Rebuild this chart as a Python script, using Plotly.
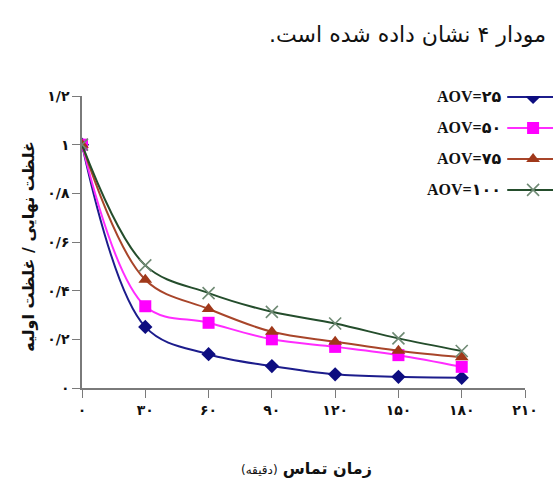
import plotly.graph_objects as go

# Contact time (minutes) and normalised concentration C/C0 for each AOV dose
time_min = [0, 30, 60, 90, 120, 150, 180]
aov_25 = [1.0, 0.251, 0.139, 0.090, 0.056, 0.046, 0.042]
aov_50 = [1.0, 0.336, 0.268, 0.200, 0.169, 0.135, 0.087]
aov_75 = [1.0, 0.445, 0.325, 0.231, 0.190, 0.153, 0.126]
aov_100 = [1.0, 0.504, 0.390, 0.313, 0.265, 0.204, 0.152]

series_names = ["AOV=۲۵", "AOV=۵۰", "AOV=۷۵", "AOV=۱۰۰"]
x_ticks = [0, 30, 60, 90, 120, 150, 180, 210]
x_tick_text = ["۰", "۳۰", "۶۰", "۹۰", "۱۲۰", "۱۵۰", "۱۸۰", "۲۱۰"]
y_ticks = [0, 0.2, 0.4, 0.6, 0.8, 1.0, 1.2]
y_tick_text = ["۰", "۰/۲", "۰/۴", "۰/۶", "۰/۸", "۱", "۱/۲"]

styles = [
    dict(line="#1c1c8c", marker=dict(symbol="diamond", size=11, color="#0d0d80")),
    dict(line="#ff2cff", marker=dict(symbol="square", size=12, color="#ff00ff")),
    dict(line="#a8452a", marker=dict(symbol="triangle-up", size=12, color="#a0381a")),
    dict(line="#244d2c", marker=dict(symbol="x-thin", size=12,
                                     line=dict(width=1.6, color="#6f8a74"))),
]

fig = go.Figure()
for name, ys, st in zip(series_names, [aov_25, aov_50, aov_75, aov_100], styles):
    fig.add_trace(go.Scatter(
        x=time_min, y=ys, mode="lines+markers", name=name,
        line=dict(color=st["line"], width=2, shape="spline", smoothing=1),
        marker=st["marker"], showlegend=False,
        xaxis="x", yaxis="y",
    ))

# Legend drawn on an auxiliary axis: label on the left, sample line on the right
legend_rows = [3, 2, 1, 0]
for name, row, st in zip(series_names, legend_rows, styles):
    fig.add_trace(go.Scatter(
        x=[0, 2], y=[row, row], mode="lines",
        line=dict(color=st["line"], width=2),
        showlegend=False, hoverinfo="skip", xaxis="x2", yaxis="y2",
    ))
    fig.add_trace(go.Scatter(
        x=[1.13], y=[row], mode="markers", marker=st["marker"],
        showlegend=False, hoverinfo="skip", xaxis="x2", yaxis="y2",
    ))
    fig.add_annotation(
        x=-0.2, y=row, xref="x2", yref="y2", text="<b>" + name + "</b>",
        showarrow=False, xanchor="right", yanchor="middle",
        font=dict(family="Liberation Serif, DejaVu Sans", size=16, color="#111111"),
    )

axis_common = dict(
    showgrid=False, zeroline=False, showline=True, linecolor="#7a7a7a",
    linewidth=1.5, ticks="outside", ticklen=8, tickcolor="#7a7a7a",
    automargin=False,
    tickfont=dict(family="DejaVu Sans", size=14, color="#111111", weight="bold"),
)

fig.update_layout(
    width=555, height=479,
    margin=dict(l=82, r=2, t=96, b=91),
    paper_bgcolor="white", plot_bgcolor="white",
    xaxis=dict(domain=[0, 0.9406], range=[0, 210], tickvals=x_ticks,
               ticktext=x_tick_text, **axis_common),
    yaxis=dict(range=[0, 1.2], tickvals=y_ticks, ticktext=y_tick_text, **axis_common),
    xaxis2=dict(domain=[0.85, 1.0], range=[-1.087, 2], visible=False,
                anchor="y2", automargin=False),
    yaxis2=dict(domain=[0, 1], range=[-6.39, 3.03], visible=False,
                anchor="x2", automargin=False),
)

fig.add_annotation(
    x=0.989, y=1.209, xref="paper", yref="paper", xanchor="right", yanchor="middle",
    text="مودار ۴ نشان داده شده است.\u200f", showarrow=False,
    font=dict(family="DejaVu Sans", size=22, color="#111111"),
)
fig.add_annotation(
    x=-0.114, y=0.485, xref="paper", yref="paper", textangle=-90,
    text="<b>غلظت نهایی / غلظت اولیه</b>", showarrow=False,
    xanchor="center", yanchor="middle",
    font=dict(family="DejaVu Sans", size=16, color="#111111"),
)
fig.add_annotation(
    x=0.476, y=-0.274, xref="paper", yref="paper",
    text="<b>زمان تماس</b> <span style='font-size:12px'>(دقیقه)</span>",
    showarrow=False, xanchor="center", yanchor="middle",
    font=dict(family="DejaVu Sans", size=16, color="#111111"),
)

fig.write_html("out.html")
